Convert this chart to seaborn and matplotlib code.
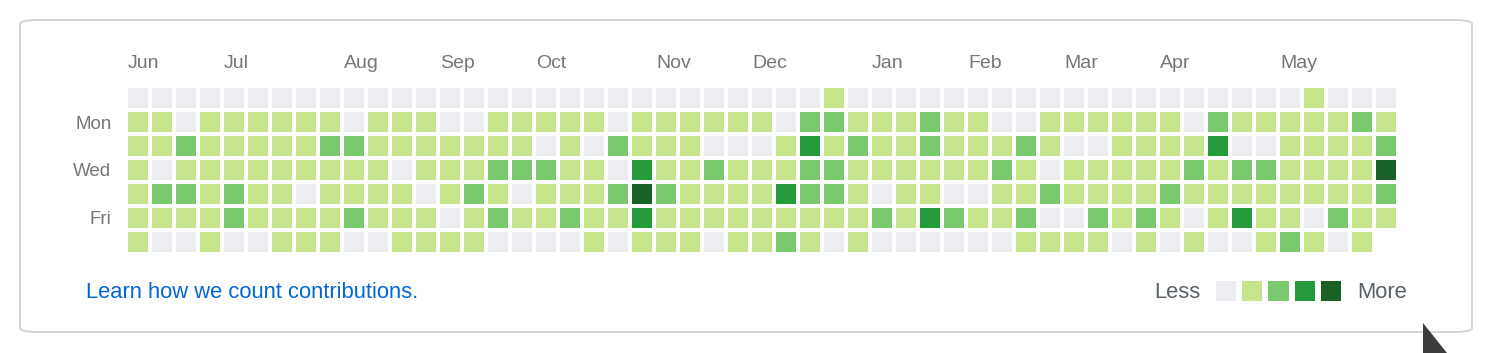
import numpy as np
import matplotlib.pyplot as plt
import seaborn as sns
from matplotlib.colors import ListedColormap
from matplotlib.patches import FancyBboxPatch, Polygon

W, H = 1496, 353

levelColors = ["#ebedf0", "#c6e48b", "#7bc96f", "#239a3b", "#196127"]

# contribution level (0-4) per day, one row per weekday, 53 weeks
sun = [0, 0, 0, 0, 0, 0, 0, 0, 0, 0, 0, 0, 0, 0, 0, 0, 0, 0, 0, 0,
       0, 0, 0, 0, 0, 0, 0, 0, 0, 1, 0, 0, 0, 0, 0, 0, 0, 0, 0, 0,
       0, 0, 0, 0, 0, 0, 0, 0, 0, 1, 0, 0, 0]
mon = [1, 1, 0, 1, 1, 1, 1, 1, 1, 0, 1, 1, 1, 0, 0, 1, 1, 1, 1, 1,
       0, 1, 1, 1, 1, 1, 1, 0, 2, 2, 1, 1, 1, 2, 1, 1, 0, 0, 1, 1,
       1, 1, 1, 1, 0, 2, 1, 1, 1, 1, 1, 2, 1]
tue = [1, 1, 2, 1, 1, 1, 1, 1, 2, 2, 1, 1, 1, 1, 1, 1, 1, 0, 1, 0,
       2, 1, 1, 1, 0, 0, 0, 1, 3, 1, 2, 1, 1, 2, 1, 1, 1, 2, 1, 0,
       0, 1, 1, 1, 1, 3, 0, 0, 1, 1, 1, 1, 2]
wed = [1, 0, 1, 1, 1, 1, 1, 1, 1, 1, 1, 0, 1, 1, 1, 2, 2, 2, 1, 1,
       0, 3, 1, 1, 2, 1, 1, 1, 2, 2, 1, 1, 1, 1, 1, 1, 2, 1, 0, 1,
       1, 1, 1, 1, 2, 1, 2, 2, 1, 1, 1, 1, 4]
thu = [1, 2, 2, 1, 2, 1, 1, 0, 1, 1, 1, 1, 0, 1, 2, 1, 0, 1, 1, 1,
       2, 4, 2, 1, 1, 1, 1, 3, 2, 2, 1, 0, 1, 1, 0, 0, 1, 1, 2, 1,
       1, 1, 1, 2, 1, 1, 1, 1, 1, 1, 1, 1, 2]
fri = [1, 1, 1, 1, 2, 1, 1, 1, 1, 2, 1, 1, 1, 0, 1, 2, 1, 1, 2, 1,
       1, 3, 1, 1, 1, 1, 1, 1, 1, 1, 1, 2, 1, 3, 2, 1, 1, 2, 0, 0,
       2, 1, 2, 1, 0, 1, 3, 1, 1, 0, 2, 1, 1]
sat = [1, 0, 0, 1, 0, 0, 1, 1, 1, 0, 0, 1, 1, 1, 1, 0, 0, 0, 0, 1,
       0, 1, 1, 1, 0, 1, 1, 2, 1, 0, 1, 0, 0, 0, 0, 0, 0, 1, 1, 1,
       1, 0, 1, 0, 1, 0, 0, 1, 2, 1, 0, 1, np.nan]

monthLabels = ["Jun", "Jul", "Aug", "Sep", "Oct", "Nov", "Dec",
               "Jan", "Feb", "Mar", "Apr", "May"]
monthWeeks = [0, 4, 9, 13, 17, 22, 26, 31, 35, 39, 43, 48]
dayLabels = ["Mon", "Wed", "Fri"]
dayRows = [1, 3, 5]
legendLevels = [0, 1, 2, 3, 4]


def box(x0, y0, x1, y1):
    # pixel box (top-left origin) -> figure rect
    return [x0 / W, 1 - y1 / H, (x1 - x0) / W, (y1 - y0) / H]


sns.set_style("white")
plt.rcParams["font.family"] = ["Liberation Sans", "DejaVu Sans"]

grid = np.array([sun, mon, tue, wed, thu, fri, sat], dtype=float)
cmap = ListedColormap(levelColors)

fig = plt.figure(figsize=(W / 100, H / 100), dpi=100)

# card border
fig.patches.append(FancyBboxPatch(
    (20 / W, 1 - 332 / H), 1452 / W, 312 / H,
    boxstyle="round,pad=0,rounding_size=0.012",
    transform=fig.transFigure, facecolor="none",
    edgecolor="#d1d5da", linewidth=1.4, zorder=-1))

ax = fig.add_axes(box(126, 86, 1398, 254))
sns.heatmap(grid, ax=ax, cmap=cmap, vmin=-0.5, vmax=4.5, cbar=False,
            linewidths=2.88, linecolor="white",
            xticklabels=False, yticklabels=False)
ax.xaxis.tick_top()
ax.set_xticks([w + 0.08 for w in monthWeeks])
ax.set_xticklabels(monthLabels, ha="left")
ax.set_yticks([r + 0.5 for r in dayRows])
ax.set_yticklabels(dayLabels, rotation=0)
ax.tick_params(axis="x", length=0, pad=10, labelsize=14, labelcolor="#767676")
ax.tick_params(axis="y", length=0, pad=10.5, labelsize=13.5, labelcolor="#767676")

# legend swatches
lax = fig.add_axes(box(1213, 278, 1344, 304))
sns.heatmap([legendLevels], ax=lax, cmap=cmap, vmin=-0.5, vmax=4.5, cbar=False,
            linewidths=4.32, linecolor="white",
            xticklabels=False, yticklabels=False)

fig.text(86 / W, 1 - 293 / H, "Learn how we count contributions.",
         va="center", ha="left", color="#0366d6", fontsize=15.8)
fig.text(1200 / W, 1 - 293 / H, "Less", va="center", ha="right",
         color="#586069", fontsize=15.8)
fig.text(1357 / W, 1 - 293 / H, "More", va="center", ha="left",
         color="#586069", fontsize=15.8)

# mouse pointer in the corner of the screenshot
fig.patches.append(Polygon(
    [(1423 / W, 1 - 323 / H), (1423 / W, 0), (1447 / W, 0)],
    closed=True, transform=fig.transFigure, facecolor="#3d3d3d",
    edgecolor="none"))

fig.savefig("out.png", dpi=100)
plt.close(fig)
